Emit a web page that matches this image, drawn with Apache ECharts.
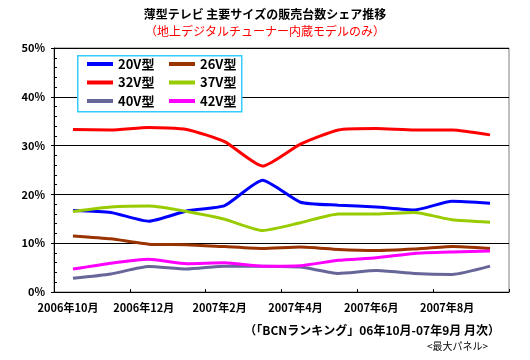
<!DOCTYPE html>
<html><head><meta charset="utf-8">
<script src="https://cdn.jsdelivr.net/npm/echarts@6/dist/echarts.min.js"></script>
<style>html,body{margin:0;padding:0;background:#fff}#c{width:530px;height:360px}</style>
</head><body><div id="c"></div>
<script>
const categories = ['2006年10月','2006年11月','2006年12月','2007年1月','2007年2月','2007年3月','2007年4月','2007年5月','2007年6月','2007年7月','2007年8月','2007年9月'];
const s20 = [16.7,16.3,14.5,16.6,17.7,22.9,18.4,17.8,17.4,16.8,18.6,18.2];
const s26 = [11.5,10.9,9.8,9.7,9.3,8.9,9.2,8.7,8.5,8.8,9.3,8.9];
const s32 = [33.3,33.2,33.7,33.3,30.8,25.8,30.3,33.2,33.5,33.2,33.2,32.2];
const s37 = [16.5,17.4,17.6,16.5,14.9,12.6,14.2,16.0,16.0,16.3,14.8,14.3];
const s40 = [2.8,3.7,5.2,4.7,5.3,5.3,5.1,3.8,4.4,3.8,3.6,5.3];
const s42 = [4.7,5.9,6.7,5.8,6.0,5.3,5.4,6.5,7.0,7.9,8.2,8.4];
const seriesNames = ['20V型','26V型','32V型','37V型','40V型','42V型'];
const seriesColors = ['#0000FF','#993300','#FF0000','#99CC00','#666699','#FF00FF'];
const seriesData = [s20,s26,s32,s37,s40,s42];
const titleText = '薄型テレビ 主要サイズの販売台数シェア推移';
const subtitleText = '（地上デジタルチューナー内蔵モデルのみ）';
const sourceText = '（「BCNランキング」06年10月-07年9月 月次）';
const noteText = '<最大パネル>';

const FONT = '"Noto Sans CJK JP", "Liberation Sans", sans-serif';
const chart = echarts.init(document.getElementById('c'), null, {renderer:'canvas'});
const legendText = {fontFamily: FONT, fontSize: 13, fontWeight: 'bold', color: '#000', lineHeight: 16};
const legendBase = {orient:'vertical', icon:'rect', itemWidth:26, itemHeight:4, itemGap:2.5, textStyle: legendText, z: 6, padding: 0, selectedMode: false};

chart.setOption({
  animation: false,
  backgroundColor: '#fff',
  textStyle: {fontFamily: FONT},
  grid: {left: 54, top: 48, right: 21, bottom: 68, show: true, borderColor: '#808080', borderWidth: 1, backgroundColor: '#fff'},
  xAxis: {
    type: 'category', data: categories, boundaryGap: true,
    axisLine: {lineStyle: {color: '#000', width: 1}},
    axisTick: {show: true, inside: true, length: 3, interval: 1, lineStyle: {color: '#000'}},
    axisLabel: {interval: 1, margin: 10, fontFamily: FONT, fontSize: 11, fontWeight: 'bold', color: '#000', padding: [0, 10, 0, 0]},
    splitLine: {show: false}
  },
  yAxis: [{
    type: 'value', min: 0, max: 50, interval: 10,
    axisLine: {show: true, lineStyle: {color: '#000', width: 1}},
    axisTick: {show: true, inside: false, length: 3, lineStyle: {color: '#000'}},
    axisLabel: {formatter: '{value}%', margin: 9, fontFamily: FONT, fontSize: 11, fontWeight: 'bold', color: '#000'},
    splitLine: {show: true, lineStyle: {color: '#000', width: 1}}
  },{
    type: 'value', min: 0, max: 50, interval: 2, position: 'left',
    axisLine: {show: false},
    axisTick: {show: true, inside: true, length: 3, lineStyle: {color: '#000'}},
    axisLabel: {show: false},
    splitLine: {show: false}
  }],
  legend: [
    Object.assign({}, legendBase, {left: 87, top: 56, data: ['20V型','32V型','40V型']}),
    Object.assign({}, legendBase, {left: 169, top: 56, data: ['26V型','37V型','42V型']})
  ],
  graphic: [
    {type:'rect', left: 77, top: 55, z: 5, shape:{width: 164, height: 56}, style:{fill:'#fff', stroke:'#33CCFF', lineWidth: 1.5}},
    {type:'text', left: 'center', top: 8, z: 10, style:{text: titleText, font: 'bold 12px ' + FONT, fill:'#000'}},
    {type:'text', left: 'center', top: 25, z: 10, style:{text: subtitleText, font: '12px ' + FONT, fill:'#FF0000'}},
    {type:'text', right: 30, top: 324, z: 10, style:{text: sourceText, font: 'bold 12px ' + FONT, fill:'#000'}},
    {type:'text', right: 42, top: 341, z: 10, style:{text: noteText, font: '10px ' + FONT, fill:'#000'}}
  ],
  series: seriesData.map((d, i) => ({
    name: seriesNames[i], type: 'line', data: d, yAxisIndex: 0,
    smooth: 0.18, symbol: 'none', color: seriesColors[i],
    lineStyle: {color: seriesColors[i], width: 3}, z: 2
  }))
});
</script></body></html>
